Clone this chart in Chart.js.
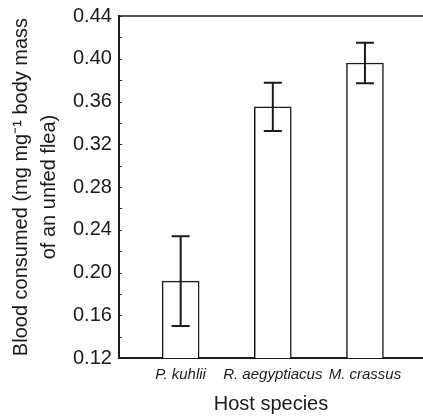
<!DOCTYPE html>
<html>
<head>
<meta charset="utf-8">
<script src="https://cdn.jsdelivr.net/npm/chart.js@4"></script>
<style>
  html, body { margin: 0; padding: 0; background: #fff; }
  #wrap { width: 423px; height: 419px; }
</style>
</head>
<body>
<div id="wrap"><canvas id="bloodChart"></canvas></div>
<script>
// data
const hosts = ['P. kuhlii', 'R. aegyptiacus', 'M. crassus'];
const bloodMean = [0.192, 0.355, 0.396];
const bloodErr = [0.042, 0.0226, 0.019];
const yTicks = [0.12, 0.16, 0.20, 0.24, 0.28, 0.32, 0.36, 0.40, 0.44];

const hostPos = hosts.map((_, i) => i + 1);
const ink = '#1a1a1a';

// error bars + small inside ticks + top frame line
const extras = {
  id: 'extras',
  afterDatasetsDraw(chart) {
    const { ctx, chartArea, scales: { x, y } } = chart;
    ctx.save();
    ctx.strokeStyle = ink;

    // error bars
    ctx.lineWidth = 2;
    bloodMean.forEach((m, i) => {
      const px = x.getPixelForValue(hostPos[i]);
      const top = y.getPixelForValue(m + bloodErr[i]);
      const bot = y.getPixelForValue(m - bloodErr[i]);
      ctx.beginPath();
      ctx.moveTo(px, top); ctx.lineTo(px, bot);
      ctx.moveTo(px - 9, top); ctx.lineTo(px + 9, top);
      ctx.moveTo(px - 9, bot); ctx.lineTo(px + 9, bot);
      ctx.stroke();
    });

    // inside ticks on the y axis
    ctx.lineWidth = 1;
    y.ticks.forEach(t => {
      const py = Math.round(y.getPixelForValue(t.value)) + 0.5;
      ctx.beginPath();
      ctx.moveTo(chartArea.left, py);
      ctx.lineTo(chartArea.left + 3, py);
      ctx.stroke();
    });

    // top frame line
    ctx.lineWidth = 1.5;
    ctx.beginPath();
    ctx.moveTo(chartArea.left, chartArea.top);
    ctx.lineTo(chartArea.right, chartArea.top);
    ctx.stroke();
    ctx.restore();
  }
};

const ctx = document.getElementById('bloodChart').getContext('2d');
new Chart(ctx, {
  type: 'bar',
  data: {
    datasets: [{
      data: hostPos.map((p, i) => ({ x: p, y: bloodMean[i] })),
      backgroundColor: '#ffffff',
      borderColor: ink,
      borderWidth: 1.5,
      borderSkipped: 'bottom',
      barThickness: 37,
      base: 0.12
    }]
  },
  options: {
    responsive: true,
    maintainAspectRatio: false,
    animation: false,
    layout: { padding: { top: 16, right: 0, bottom: 0, left: 0 } },
    plugins: {
      legend: { display: false },
      tooltip: { enabled: false }
    },
    scales: {
      x: {
        type: 'linear',
        offset: false,
        min: 0.33,
        max: 3.63,
        afterBuildTicks: axis => { axis.ticks = hostPos.map(v => ({ value: v })); },
        grid: { display: false, drawTicks: false, offset: false },
        border: { display: true, width: 2, color: ink },
        ticks: {
          padding: 8,
          autoSkip: false,
          maxRotation: 0,
          color: ink,
          font: { family: 'Liberation Sans', size: 15, style: 'italic' },
          callback: v => hosts[v - 1] || ''
        },
        title: {
          display: true,
          text: 'Host species',
          color: ink,
          font: { family: 'Liberation Sans', size: 20 },
          padding: { top: 0, bottom: 3 }
        }
      },
      y: {
        min: 0.12,
        max: 0.44,
        grid: { display: false, drawTicks: false },
        border: { display: true, width: 2, color: ink },
        ticks: {
          stepSize: 0.02,
          padding: 7,
          color: ink,
          font: { family: 'Liberation Sans', size: 20, lineHeight: 0.9 },
          callback: v => yTicks.some(t => Math.abs(t - v) < 1e-6) ? v.toFixed(2) : ''
        },
        title: {
          display: true,
          text: ['Blood consumed (mg mg\u207B\u00B9 body mass', 'of an unfed flea)'],
          color: ink,
          font: { family: 'Liberation Sans', size: 20, lineHeight: 1.4 },
          padding: { top: 7, bottom: 3 }
        }
      }
    }
  },
  plugins: [extras]
});
</script>
</body>
</html>
